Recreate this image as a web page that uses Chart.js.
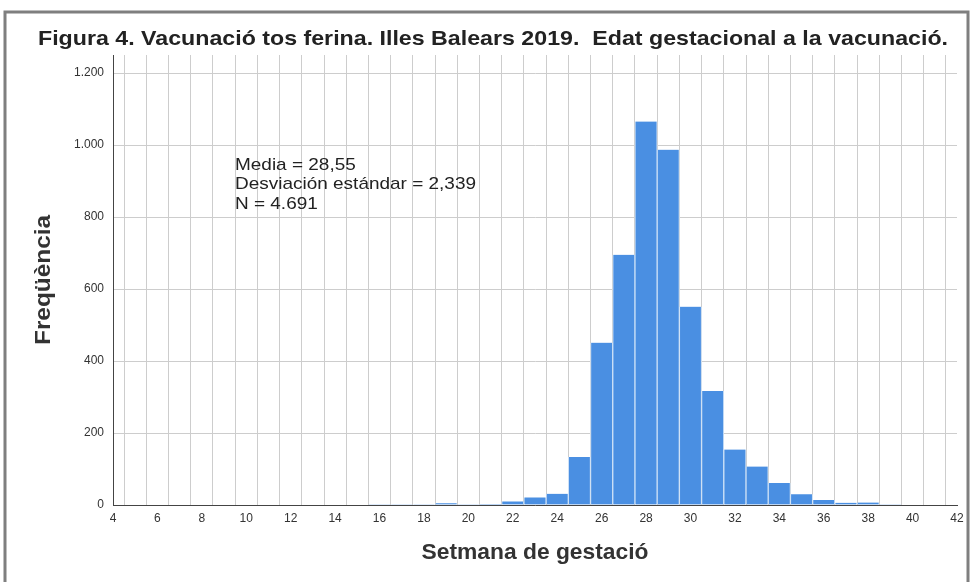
<!DOCTYPE html>
<html>
<head>
<meta charset="utf-8">
<script src="https://cdn.jsdelivr.net/npm/chart.js@4"></script>
<style>
  html, body { margin: 0; padding: 0; background: #fff; }
  #wrap { width: 971px; height: 582px; }
</style>
</head>
<body>
<div id="wrap"><canvas id="chart" width="971" height="582"></canvas></div>
<script>
// weeks of gestation (bin centres) and how many vaccinations fell in each
var weeks = [16, 17, 18, 19, 20, 21, 22, 23, 24, 25, 26, 27, 28, 29, 30, 31, 32, 33, 34, 35, 36, 37, 38, 39];
var freq  = [ 1,  1,  2,  5,  2,  3, 10, 21, 31, 133, 451, 695, 1065, 987, 551, 317, 154, 107, 61, 30, 14, 6, 7, 1];

// tick labels
var yTicks = [0, 200, 400, 600, 800, 1000, 1200];
var statLines = ['Media = 28,55', 'Desviación estándar = 2,339', 'N = 4.691'];

var titleText = 'Figura 4. Vacunació tos ferina. Illes Balears 2019.  Edat gestacional a la vacunació.';
var yTitle = 'Freqüència';
var xTitle = 'Setmana de gestació';

var FONT = '"Liberation Sans", Arial, sans-serif';

// thousands with a dot like the original (1.200)
function fmt(v) {
  return String(v).replace(/\B(?=(\d{3})+(?!\d))/g, '.');
}

// draws text squeezed/stretched sideways so it spans w pixels (the original is a stretched jpeg)
function wideText(ctx, txt, x, y, w, align) {
  var m = ctx.measureText(txt).width;
  var k = w / m;
  ctx.save();
  ctx.translate(x, y);
  ctx.scale(k, 1);
  ctx.textAlign = align;
  ctx.fillText(txt, 0, 0);
  ctx.restore();
}

// frame, titles and the little stats box, drawn by hand
var decor = {
  id: 'decor',
  beforeDraw: function(chart) {
    var ctx = chart.ctx;
    ctx.save();
    ctx.fillStyle = '#fff';
    ctx.fillRect(0, 0, chart.width, chart.height);
    ctx.strokeStyle = '#7f7f7f';
    ctx.lineWidth = 3;
    ctx.strokeRect(5, 12, 963, 620);
    ctx.restore();
  },
  afterDraw: function(chart) {
    var ctx = chart.ctx;
    ctx.save();
    ctx.fillStyle = '#222';
    ctx.textBaseline = 'middle';
    ctx.font = 'bold 21px ' + FONT;
    wideText(ctx, titleText, 493, 39, 910, 'center');

    ctx.font = 'bold 22px ' + FONT;
    ctx.fillStyle = '#333';
    wideText(ctx, xTitle, 535, 553, 227, 'center');

    ctx.translate(44, 280);
    ctx.rotate(-Math.PI / 2);
    wideText(ctx, yTitle, 0, 0, 130, 'center');
    ctx.restore();

    ctx.save();
    ctx.fillStyle = '#222';
    ctx.font = '17px ' + FONT;
    ctx.textBaseline = 'middle';
    // longest line sets the stretch, others use the same factor
    var k = 241 / ctx.measureText(statLines[1]).width;
    for (var i = 0; i < statLines.length; i++)
      wideText(ctx, statLines[i], 235, 165 + i * 19.5, ctx.measureText(statLines[i]).width * k, 'left');
    ctx.restore();
  }
};

var pts = weeks.map(function(w, i) { return {x: w, y: freq[i]}; });

new Chart(document.getElementById('chart'), {
  type: 'bar',
  data: {
    datasets: [{
      data: pts,
      backgroundColor: '#4a8fe2',
      borderColor: '#cfe2f7',
      borderWidth: {left: 1, right: 1, top: 0, bottom: 0},
      borderSkipped: false,
      barPercentage: 1,
      categoryPercentage: 1
    }]
  },
  options: {
    responsive: false,
    animation: false,
    layout: { padding: { top: 55, right: 14, left: 0, bottom: 0 } },
    plugins: {
      legend: { display: false },
      tooltip: { enabled: false }
    },
    scales: {
      x: {
        type: 'linear',
        min: 4,
        max: 42,
        offset: false,
        afterFit: function(s) { s.height = 77; },
        afterBuildTicks: function(s) {
          var t = [];
          for (var v = 4; v <= 42; v++) t.push({value: v});
          s.ticks = t;
        },
        ticks: {
          autoSkip: false,
          maxRotation: 0,
          padding: 6,
          color: '#333',
          font: { family: FONT, size: 12 },
          callback: function(v) { return v % 2 === 0 ? v : ''; }
        },
        grid: { color: '#cdcdcd', lineWidth: 1, drawTicks: false },
        border: { color: '#444', width: 1 }
      },
      y: {
        min: 0,
        max: 1250,
        afterFit: function(s) { s.width = 113; },
        afterBuildTicks: function(s) {
          s.ticks = yTicks.map(function(v) { return {value: v}; });
        },
        ticks: {
          padding: 9,
          color: '#333',
          font: { family: FONT, size: 12 },
          callback: function(v) { return fmt(v); }
        },
        grid: { color: '#cdcdcd', lineWidth: 1, drawTicks: false },
        border: { color: '#444', width: 1 }
      }
    }
  },
  plugins: [decor]
});
</script>
</body>
</html>
